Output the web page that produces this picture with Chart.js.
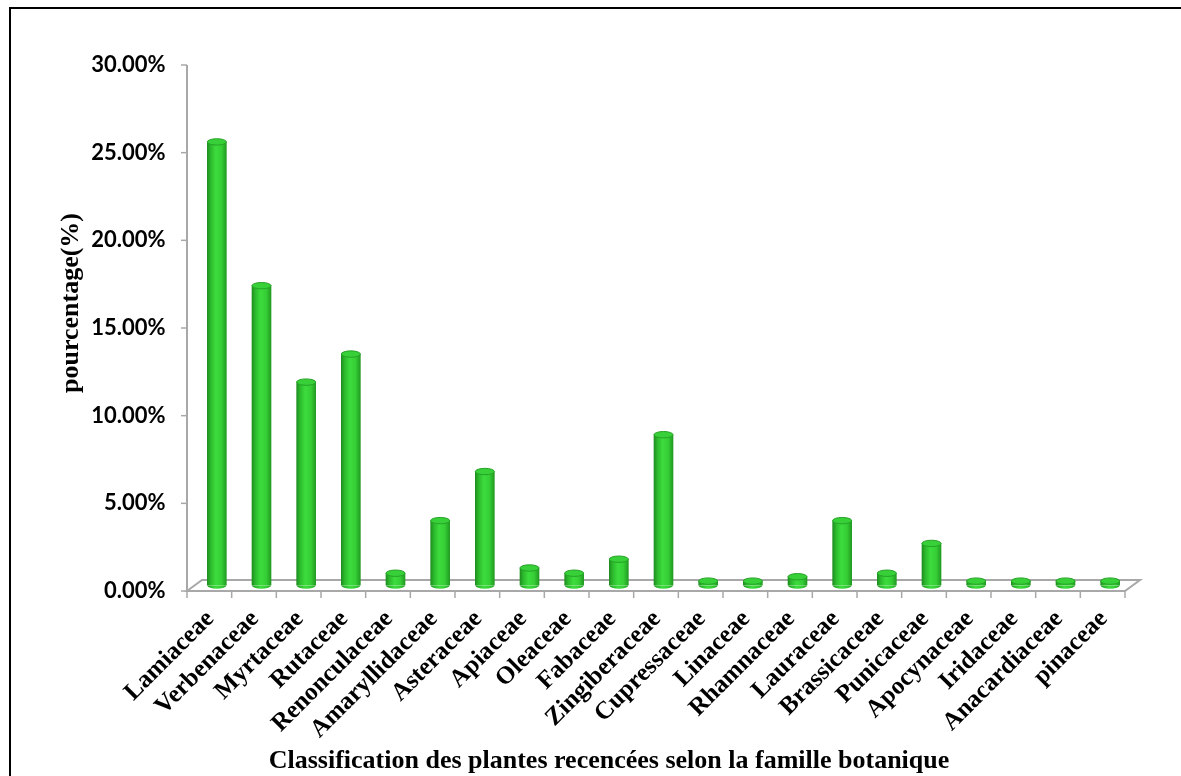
<!DOCTYPE html>
<html>
<head>
<meta charset="utf-8">
<script src="https://cdn.jsdelivr.net/npm/chart.js@4.4.1/dist/chart.umd.min.js"></script>
<style>
  html, body { margin: 0; padding: 0; background: #ffffff; }
  #wrap { position: relative; width: 1181px; height: 776px; overflow: hidden; }
  #frame { position: absolute; left: 9px; top: 7px; width: 1200px; height: 800px;
           border-top: 2px solid #000; border-left: 2px solid #000; box-sizing: border-box; }
  canvas { position: absolute; left: 0; top: 0; }
</style>
</head>
<body>
<div id="wrap">
  <div id="frame"></div>
  <canvas id="c" width="1181" height="776"></canvas>
</div>
<script>
// ---- data ----
const categories = ['Lamiaceae','Verbenaceae','Myrtaceae','Rutaceae','Renonculaceae','Amaryllidaceae',
  'Asteraceae','Apiaceae','Oleaceae','Fabaceae','Zingiberaceae','Cupressaceae','Linaceae','Rhamnaceae',
  'Lauraceae','Brassicaceae','Punicaceae','Apocynaceae','Iridaceae','Anacardiaceae','pinaceae'];
const percentages = [25.3, 17.1, 11.6, 13.2, 0.7, 3.7, 6.5, 1.0, 0.7, 1.5, 8.6, 0.25, 0.25, 0.5,
  3.7, 0.7, 2.4, 0.25, 0.25, 0.25, 0.25];
const yTickValues = [0, 5, 10, 15, 20, 25, 30];
const xTitle = 'Classification des plantes recencées selon la famille botanique';
const yTitle = 'pourcentage(%)';

// ---- 3D look parameters ----
const DX = 7.5, DY = 5.5, RY = 3.2;
const AREA = { left: 194.5, right: 1132.5, top: 59.5, bottom: 585.5 };

function makeGradient(ctx, cx, half) {
  const g = ctx.createLinearGradient(cx - half, 0, cx + half, 0);
  g.addColorStop(0, '#1f8f1f');
  g.addColorStop(0.18, '#2cba2c');
  g.addColorStop(0.45, '#3ddc3d');
  g.addColorStop(0.75, '#35ce35');
  g.addColorStop(1, '#229b22');
  return g;
}

function barGradient(c) {
  const chart = c.chart;
  const xs = chart.scales && chart.scales.x;
  if (!xs || c.type !== 'data' || !chart.chartArea) return '#33cc33';
  return makeGradient(chart.ctx, xs.getPixelForValue(c.dataIndex), 9.5);
}

const frame3d = {
  id: 'frame3d',
  beforeDatasetsDraw(chart) {
    const { ctx, chartArea: a, scales: { x, y } } = chart;
    const y0 = y.getPixelForValue(0);
    const yTop = y.getPixelForValue(y.max);
    ctx.save();
    ctx.strokeStyle = '#a8a8a8';
    ctx.lineWidth = 2;
    // floor
    ctx.beginPath();
    ctx.moveTo(a.left - DX, y0 + DY);
    ctx.lineTo(a.left + DX, y0 - DY);
    ctx.lineTo(a.right + DX, y0 - DY);
    ctx.lineTo(a.right - DX, y0 + DY);
    ctx.closePath();
    ctx.stroke();
    // front vertical axis
    ctx.beginPath();
    ctx.moveTo(a.left - DX, yTop + DY);
    ctx.lineTo(a.left - DX, y0 + DY);
    ctx.stroke();
    // y ticks
    ctx.lineWidth = 1.5;
    y.ticks.forEach(t => {
      const py = y.getPixelForValue(t.value) + DY;
      ctx.beginPath();
      ctx.moveTo(a.left - DX - 6, py);
      ctx.lineTo(a.left - DX, py);
      ctx.stroke();
    });
    // x ticks (category boundaries)
    const n = categories.length;
    for (let i = 0; i <= n; i++) {
      const px = a.left + i * (a.width / n) - DX;
      ctx.beginPath();
      ctx.moveTo(px, y0 + DY);
      ctx.lineTo(px, y0 + DY + 7);
      ctx.stroke();
    }
    ctx.restore();
  },
  afterDatasetsDraw(chart) {
    const { ctx } = chart;
    const meta = chart.getDatasetMeta(0);
    ctx.save();
    meta.data.forEach(el => {
      const p = el.getProps(['x', 'y', 'base', 'width'], true);
      const rx = p.width / 2;
      // bottom rounded edge
      ctx.beginPath();
      ctx.ellipse(p.x, p.base, rx, RY, 0, 0, Math.PI);
      ctx.closePath();
      ctx.fillStyle = makeGradient(ctx, p.x, rx);
      ctx.fill();
      // top cap
      ctx.beginPath();
      ctx.ellipse(p.x, p.y, rx, RY, 0, 0, Math.PI * 2);
      ctx.fillStyle = '#38d038';
      ctx.fill();
      ctx.lineWidth = 1;
      ctx.strokeStyle = '#26a226';
      ctx.stroke();
    });
    ctx.restore();
  },
  afterDraw(chart) {
    const { ctx } = chart;
    ctx.save();
    ctx.fillStyle = '#000';
    ctx.font = 'bold 26px "Liberation Serif", "Times New Roman", serif';
    ctx.textAlign = 'center';
    ctx.textBaseline = 'alphabetic';
    ctx.fillText(xTitle, 609, 768);
    ctx.translate(78, 303);
    ctx.rotate(-Math.PI / 2);
    ctx.font = 'bold 26px "Liberation Serif", "Times New Roman", serif';
    ctx.fillText(yTitle, 0, 0);
    ctx.restore();
  }
};

new Chart(document.getElementById('c'), {
  type: 'bar',
  data: {
    labels: categories,
    datasets: [{
      data: percentages,
      backgroundColor: barGradient,
      borderWidth: 0,
      barThickness: 19
    }]
  },
  options: {
    responsive: false,
    animation: false,
    events: [],
    layout: { padding: { left: 0, top: AREA.top, right: 1181 - AREA.right, bottom: 0 } },
    plugins: { legend: { display: false }, tooltip: { enabled: false }, title: { display: false } },
    scales: {
      x: {
        grid: { display: false, drawTicks: false },
        border: { display: false },
        ticks: {
          autoSkip: false,
          maxRotation: 45,
          minRotation: 45,
          padding: 19,
          labelOffset: -DX + 1,
          color: '#000',
          font: { family: '"Liberation Serif", "Times New Roman", serif', weight: 'bold', size: 25 }
        },
        afterFit(s) { s.height = 776 - AREA.bottom; }
      },
      y: {
        min: 0,
        max: 30,
        grid: { display: false, drawTicks: false },
        border: { display: false },
        afterBuildTicks(s) { s.ticks = yTickValues.map(v => ({ value: v })); },
        ticks: {
          padding: 29,
          labelOffset: DY,
          color: '#000',
          font: { family: 'Lato, "Liberation Sans", sans-serif', weight: 'bold', size: 22 },
          callback: v => Number(v).toFixed(2) + '%'
        },
        afterFit(s) { s.width = AREA.left; }
      }
    }
  },
  plugins: [frame3d]
});
</script>
</body>
</html>
